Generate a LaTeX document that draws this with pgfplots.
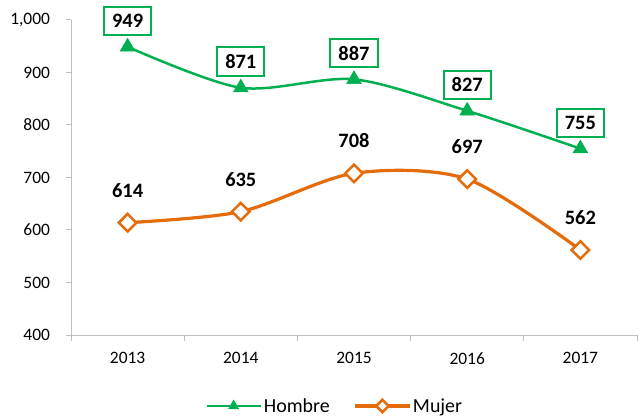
\documentclass[border=0pt]{standalone}
\usepackage{pgfplots}
\pgfplotsset{compat=1.18}
\usepackage{fontspec}
\setmainfont{Carlito}
\definecolor{cgreen}{RGB}{0,176,80}
\definecolor{corange}{RGB}{228,108,10}
\definecolor{caxis}{RGB}{191,191,191}
\begin{document}
\begin{tikzpicture}
\path[use as bounding box] (0bp,0bp) rectangle (640bp,416bp);
\begin{axis}[
  at={(71bp,81bp)}, anchor=south west,
  scale only axis, width=566bp, height=315bp,
  xmin=-0.5, xmax=4.5, ymin=400, ymax=1000,
  axis x line*=bottom, axis y line*=left,
  axis line style={caxis, line width=1bp},
  xtick={0,1,2,3,4},
  xticklabels={2013,2014,2015,2016,2017},
  minor xtick={-0.5,0.5,1.5,2.5,3.5,4.5},
  ytick={400,500,600,700,800,900,1000},
  tick align=outside,
  major x tick style={draw=none},
  minor x tick style={caxis, line width=1bp},
  major y tick style={caxis, line width=1bp},
  major tick length=5bp, minor tick length=6bp,
  /pgf/number format/assume math mode=true,
  /pgf/number format/1000 sep={,},
  ticklabel style={font=\fontsize{17.5}{20}\selectfont, text=black},
  yticklabel style={xshift=-12.5bp},
  xticklabel style={yshift=-9bp},
  clip=false,
  legend style={at={(0.466,-0.2254)}, anchor=center, draw=none, fill=none,
    font=\fontsize{20}{22}\selectfont, legend columns=2,
    /tikz/every even column/.append style={column sep=22bp}},
  legend image code/.code={\draw[mark repeat=2,mark phase=2,#1,every mark/.append style={scale=0.7}] plot coordinates {(0bp,0bp)(27bp,0bp)(54bp,0bp)};},
  smooth, tension=0.5,
]
\addplot[cgreen, line width=2.5bp, mark=triangle*, mark size=8.5bp, mark options={fill=cgreen, solid, line width=0.5bp},
  nodes near coords, point meta=explicit symbolic,
  every node near coord/.style={anchor=south, yshift=11bp, draw=cgreen, line width=2bp, fill=white,
    inner xsep=8bp, inner ysep=7bp, font=\fontsize{20.5}{22}\selectfont\bfseries, text=black}]
  coordinates {(0,949)[949] (1,871)[871] (2,887)[887] (3,827)[827] (4,755)[755]};
\addlegendentry{Hombre}
\addplot[corange, line width=3.2bp, mark=square*, mark size=6.2bp, mark options={fill=white, rotate=45, solid, line width=2.5bp},
  nodes near coords, point meta=explicit symbolic,
  every node near coord/.style={anchor=south, yshift=22bp, inner sep=2bp,
    font=\fontsize{20.5}{22}\selectfont\bfseries, text=black}]
  coordinates {(0,614)[614] (1,635)[635] (2,708)[708] (3,697)[697] (4,562)[562]};
\addlegendentry{Mujer}
\end{axis}
\end{tikzpicture}
\end{document}
